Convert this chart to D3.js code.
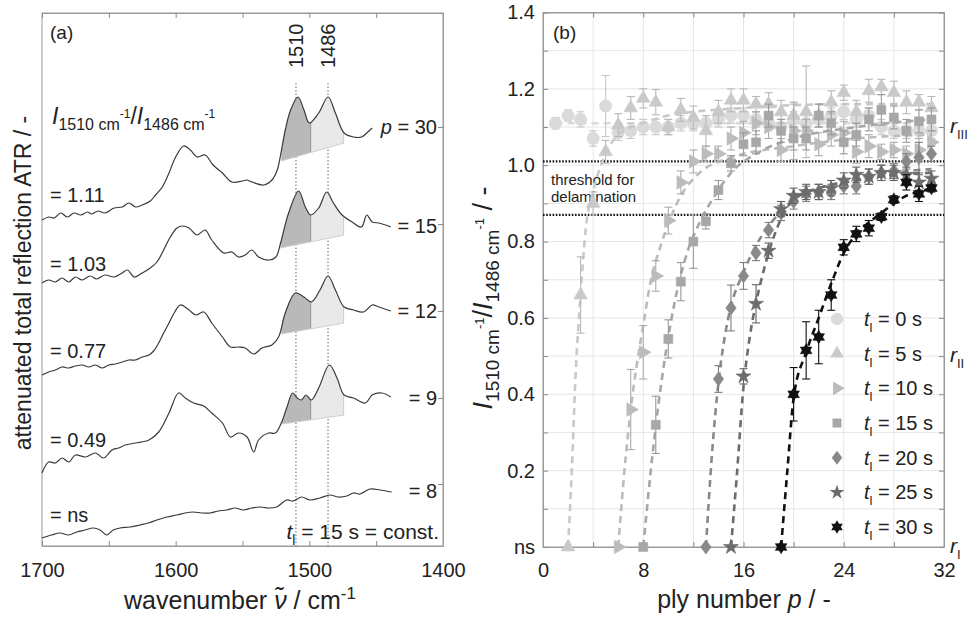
<!DOCTYPE html>
<html>
<head>
<meta charset="utf-8">
<script src="https://cdn.jsdelivr.net/npm/d3@7"></script>
<style>
  body { margin:0; background:#fff; }
  text { font-family:"Liberation Sans", Arial, sans-serif; fill:#222; }
</style>
</head>
<body>
<svg id="chart" width="971" height="617"></svg>
<script>

// ---------------------------------------------------------------
// panel (a) : ATR spectra, [wavenumber, signal a.u.]
// ---------------------------------------------------------------
var spectrumP30 = [[1700,32.6],[1695,32.9],[1691,32.8],[1686,33.3],[1681,32.9],[1676,33.3],[1671,33.1],[1666,33.4],[1663,33.2],[1658,33.5],[1653,33.3],[1646,33.8],[1640,33.9],[1635,34.3],[1630,33.9],[1625,34.1],[1619,34.5],[1615,35.1],[1610,35.9],[1605,37.3],[1600,38.9],[1594,40.0],[1589,39.6],[1584,38.9],[1578,39.1],[1572,38.1],[1565,37.3],[1558,36.4],[1550,36.5],[1547,36.6],[1543,36.4],[1534,36.1],[1528,36.6],[1524,37.6],[1521.5,39.1],[1518,41.6],[1514,43.6],[1508.5,44.9],[1504,43.6],[1500,42.3],[1493,43.3],[1486,44.9],[1480.5,43.3],[1474,41.3],[1467,40.9],[1461,40.9],[1457,41.3],[1453,41.8]];
var spectrumP15 = [[1700,26.3],[1695,26.6],[1690,26.4],[1685,26.8],[1680,26.4],[1675,26.9],[1670,26.6],[1664,27.0],[1659,26.7],[1653,27.1],[1646,26.9],[1640,27.3],[1636,27.6],[1631,26.9],[1625,27.3],[1619,27.8],[1614,28.4],[1609,29.6],[1604,30.9],[1599,31.8],[1595,32.0],[1590,31.8],[1584,31.1],[1578,31.6],[1573,30.6],[1564,29.3],[1558,29.4],[1553,28.9],[1548,29.1],[1543,29.6],[1538,28.9],[1530,28.6],[1525,28.9],[1521.5,30.3],[1515.5,33.3],[1508,35.5],[1503,33.9],[1499,33.1],[1493,33.8],[1487,35.4],[1482,34.3],[1475.5,33.1],[1468,32.4],[1461,31.9],[1457,33.1],[1453,32.4],[1448,32.3],[1443,32.1],[1439,31.9]];
var spectrumP12 = [[1700,17.1],[1695,17.4],[1690,17.6],[1685,17.9],[1680,17.8],[1675,18.0],[1670,18.1],[1665,17.9],[1660,18.1],[1655,17.8],[1650,18.1],[1645,18.2],[1640,18.4],[1635,18.6],[1630,18.6],[1625,18.9],[1620,19.1],[1616.5,19.5],[1612.7,20.3],[1609,21.3],[1605,22.3],[1600.7,23.4],[1596.5,24.1],[1590,23.6],[1585,23.1],[1579,23.4],[1573,22.3],[1565,20.9],[1559,19.9],[1553,19.9],[1548,19.8],[1541.6,19.2],[1535.4,19.8],[1528,20.1],[1523,20.9],[1518,23.3],[1510.5,25.3],[1504,24.9],[1498.5,24.4],[1492,25.6],[1486,27.0],[1480.5,25.6],[1474,23.9],[1467,23.6],[1459.4,23.4],[1453,24.1],[1448,23.9],[1439,23.5]];
var spectrumP9 = [[1700,7.3],[1695,8.4],[1690,8.3],[1685,8.8],[1680,8.4],[1675,9.1],[1667.6,8.9],[1660,9.3],[1654,8.8],[1647.6,9.6],[1642.6,9.8],[1637.7,10.1],[1630,10.3],[1620,10.6],[1612.7,11.4],[1605,13.3],[1597.8,15.3],[1592.8,14.8],[1586.5,14.3],[1579,14.0],[1573,13.3],[1565,12.3],[1559,10.9],[1553,11.3],[1546.6,10.9],[1541.6,9.4],[1538,10.6],[1530.4,11.3],[1525.4,11.3],[1521,12.3],[1516.7,13.9],[1512.5,15.3],[1509,14.8],[1506,14.6],[1502.5,15.1],[1498.5,14.6],[1493,15.8],[1485,18.1],[1479.3,16.8],[1474,15.1],[1467,14.8],[1458,14.3],[1453,15.1],[1445.6,15.3],[1439,14.9]];
var spectrumP8 = [[1700,0.8],[1693,1.1],[1686.5,1.3],[1680,1.1],[1674,1.4],[1668,1.6],[1661.6,1.8],[1656.6,1.6],[1651.6,1.1],[1646.7,1.6],[1641.6,1.8],[1634,1.9],[1626.7,2.1],[1620.5,2.3],[1614,2.6],[1606.7,2.9],[1599,3.1],[1593,3.3],[1586.8,3.4],[1580.5,3.3],[1574.3,3.3],[1568,3.5],[1561.8,3.6],[1555.6,3.8],[1549.4,3.6],[1543,3.8],[1537,3.9],[1530.7,3.8],[1524.4,3.9],[1517,4.6],[1512,4.5],[1505.7,4.9],[1499.5,4.6],[1492,4.8],[1484.6,5.1],[1478.4,4.9],[1472,5.0],[1467,5.3],[1462,5.2],[1454.6,5.7],[1447,5.6],[1438.4,5.4]];

// integration baselines under the 1510 / 1486 bands
var baseP30 = [[1521,38.5],[1474,40.3]];
var baseP15 = [[1521.5,29.8],[1474,31.1]];
var baseP12 = [[1521,21.2],[1474,22.3]];
var baseP9  = [[1520.5,12.2],[1474,13.1]];
var bandSplit = 1499;

var bandPositions = [1510, 1486];
var wavenumberTicks = [1700,1650,1600,1550,1500,1450,1400];
var spectrumEnds = [41.9, 32.2, 23.5, 14.8, 6.2];
var plyLabels = ["= 30","= 15","= 12","= 9","= 8"];
var ratioLabels = ["= 1.11","= 1.03","= 0.77","= 0.49","= ns"];

// ---------------------------------------------------------------
// panel (b) : intensity ratio vs ply number (ns plotted as 0)
// ---------------------------------------------------------------
var t0Ply = [1,2,3,4,5,6,7,8,9,10,11,12,13,14,15,16,17,18,19,20,21,22,23,24,25,26,27,28,29,30,31];
var t0Ratio = [1.11,1.13,1.12,1.07,1.155,1.085,1.09,1.10,1.10,1.10,1.11,1.11,1.11,1.12,1.13,1.13,1.12,1.11,1.10,1.12,1.11,1.12,1.13,1.14,1.12,1.13,1.10,1.09,1.09,1.09,1.09];
var t0Err = [0.015,0.015,0.02,0.02,0.08,0.02,0.02,0.02,0.02,0.02,0.02,0.02,0.02,0.02,0.02,0.02,0.02,0.02,0.02,0.02,0.02,0.02,0.02,0.02,0.02,0.02,0.02,0.02,0.02,0.02,0.02];
var t0Fit = [[1,1.11],[31,1.11]];

var t5Ply = [2,3,4,5,6,7,8,9,10,11,12,13,14,15,16,17,18,19,20,21,22,23,24,25,26,27,28,29,30,31];
var t5Ratio = [0,0.66,0.90,1.035,1.105,1.15,1.175,1.165,1.10,1.145,1.125,1.09,1.14,1.17,1.17,1.16,1.16,1.14,1.13,1.14,1.13,1.165,1.19,1.14,1.195,1.205,1.19,1.165,1.165,1.15];
var t5Err = [0,0.1,0.03,0.03,0.03,0.03,0.025,0.033,0.02,0.03,0.03,0.04,0.03,0.03,0.03,0.02,0.03,0.03,0.03,0.12,0.03,0.03,0.02,0.03,0.03,0.02,0.03,0.03,0.02,0.03];
var t5Fit = [[2,0],[2.3,0.2],[2.6,0.45],[3,0.66],[3.4,0.83],[4,0.93],[5,1.03],[6,1.08],[8,1.11],[10,1.13],[16,1.15],[24,1.16],[31,1.16]];

var t10Ply = [6,7,8,9,10,11,12,13,14,15,16,17,18,19,20,21,22,23,24,25,26,27,28,29,30,31];
var t10Ratio = [0,0.36,0.51,0.71,0.855,0.955,1.01,1.03,1.03,1.07,1.085,1.11,1.10,1.04,1.09,1.09,1.055,1.08,1.085,1.035,1.05,1.035,1.04,1.03,1.04,1.06];
var t10Err = [0,0.105,0.07,0.04,0.035,0.03,0.03,0.02,0.02,0.03,0.03,0.03,0.03,0.03,0.075,0.03,0.03,0.03,0.03,0.03,0.03,0.02,0.02,0.02,0.03,0.03];
var t10Fit = [[6,0],[6.5,0.2],[7,0.36],[7.5,0.48],[8,0.58],[8.5,0.68],[9.5,0.8],[11,0.92],[12.5,0.98],[15,1.02],[20,1.05],[25,1.07],[31,1.08]];

var t15Ply = [8,9,10,11,12,13,14,15,16,17,18,19,20,21,22,23,24,25,26,27,28,29,30,31];
var t15Ratio = [0,0.32,0.545,0.695,0.80,0.853,0.935,1.005,1.055,1.06,1.13,1.09,1.07,1.07,1.13,1.11,1.06,1.08,1.12,1.145,1.125,1.09,1.115,1.12];
var t15Err = [0,0.075,0.05,0.05,0.07,0.02,0.025,0.02,0.03,0.03,0.03,0.03,0.03,0.03,0.03,0.03,0.03,0.03,0.03,0.04,0.03,0.03,0.03,0.03];
var t15Fit = [[8,0],[8.8,0.26],[9.2,0.37],[9.85,0.52],[10.5,0.64],[11.4,0.76],[12.5,0.85],[13.8,0.925],[15,0.98],[17,1.03],[20,1.07],[25,1.10],[31,1.12]];

var t20Ply = [13,14,15,16,17,18,19,20,21,22,23,24,25,26,27,28,29,30,31];
var t20Ratio = [0,0.44,0.626,0.71,0.77,0.83,0.875,0.905,0.925,0.93,0.93,0.945,0.945,0.97,0.98,0.985,1.01,1.02,1.03];
var t20Err = [0,0.035,0.06,0.035,0.02,0.02,0.02,0.02,0.02,0.02,0.02,0.02,0.02,0.02,0.02,0.02,0.02,0.04,0.02];
var t20Fit = [[13,0],[13.5,0.25],[14,0.43],[14.5,0.55],[15,0.63],[16,0.72],[17,0.79],[18,0.84],[19,0.88],[20,0.91],[22,0.94],[25,0.96],[28,0.98],[31,0.99]];

var t25Ply = [15,16,17,18,19,20,21,22,23,24,25,26,27,28,29,30,31];
var t25Ratio = [0,0.447,0.637,0.776,0.885,0.92,0.93,0.93,0.94,0.96,0.975,0.97,0.98,0.98,0.975,0.955,0.965];
var t25Err = [0,0.02,0.05,0.02,0.02,0.02,0.02,0.02,0.02,0.02,0.02,0.02,0.02,0.02,0.02,0.02,0.02];
var t25Fit = [[15,0],[15.45,0.18],[16,0.42],[16.5,0.55],[17,0.64],[17.5,0.71],[18,0.77],[19,0.86],[20,0.91],[22,0.94],[25,0.96],[28,0.975],[31,0.98]];

var t30Ply = [19,20,21,22,23,24,25,26,27,28,29,30,31];
var t30Ratio = [0,0.40,0.515,0.55,0.66,0.785,0.82,0.835,0.865,0.91,0.955,0.925,0.94];
var t30Err = [0,0.07,0.075,0.07,0.04,0.02,0.02,0.02,0.01,0.01,0.02,0.02,0.01];
var t30Fit = [[19,0],[19.5,0.2],[20,0.39],[21,0.51],[22,0.6],[23,0.69],[24,0.77],[25,0.82],[26,0.85],[27,0.875],[28,0.9],[29,0.92],[30,0.93],[31,0.94]];

var layerTimes = ["0","5","10","15","20","25","30"];
var thresholds = [1.01, 0.87];
var plyTicks = [0,4,8,12,16,20,24,28,32];
var plyTickLabels = ["0","","8","","16","","24","","32"];
var ratioTicks = [0,0.1,0.2,0.3,0.4,0.5,0.6,0.7,0.8,0.9,1.0,1.1,1.2,1.3,1.4];
var ratioTickLabels = ["ns","","0.2","","0.4","","0.6","","0.8","","1.0","","1.2","","1.4"];
var regimeLabels = ["III","II","I"];
var regimeLevels = [1.1, 0.5, 0];

// ---------------------------------------------------------------
var svg = d3.select("#chart");
var FONT_TICK = 20;

// six pointed star for t = 30 s
var symbolHexagram = {
	draw: function(context, size){
		var r = Math.sqrt(size/1.3);
		for ( var k=0; k<2; k++ ){
			for ( var i=0; i<3; i++ ){
				var a = -Math.PI/2 + k*Math.PI + i*2*Math.PI/3;
				if ( i==0 ) context.moveTo(r*Math.cos(a), r*Math.sin(a));
				else context.lineTo(r*Math.cos(a), r*Math.sin(a));
			}
			context.closePath();
		}
	}
};
// a slightly fatter diamond than d3.symbolDiamond
var symbolFatDiamond = {
	draw: function(context, size){
		var h = Math.sqrt(size)*0.85, w = h*0.75;
		context.moveTo(0,-h);
		context.lineTo(w,0);
		context.lineTo(0,h);
		context.lineTo(-w,0);
		context.closePath();
	}
};

function styleAxis(g){
	g.selectAll(".domain").attr("stroke","#9a9a9a");
	g.selectAll(".tick line").attr("stroke","#8a8a8a");
	g.selectAll(".tick text").style("font-size",FONT_TICK+"px").attr("fill","#222");
}

// ===============================================================
// panel (a)
// ===============================================================
var aLeft = 42, aRight = 443, aTop = 13, aBottom = 546;
var xA = d3.scaleLinear().domain([1700,1400]).range([aLeft,aRight]);
var yA = d3.scaleLinear().domain([0,53.3]).range([aBottom,aTop]);

var pa = svg.append("g");

pa.append("rect").attr("x",aLeft).attr("y",aTop).attr("width",aRight-aLeft).attr("height",aBottom-aTop)
	.attr("fill","none").attr("stroke","#9a9a9a");

var axBottomA = pa.append("g").attr("transform","translate(0,"+aBottom+")")
	.call(d3.axisBottom(xA).tickValues(wavenumberTicks).tickSize(-5).tickSizeOuter(0).tickPadding(17)
		.tickFormat(function(d){ return d%100===0 ? d : ""; }));
styleAxis(axBottomA);
var axTopA = pa.append("g").attr("transform","translate(0,"+aTop+")")
	.call(d3.axisTop(xA).tickValues(wavenumberTicks).tickSize(-5).tickSizeOuter(0).tickFormat(""));
styleAxis(axTopA);
var axRightA = pa.append("g").attr("transform","translate("+aRight+",0)")
	.call(d3.axisRight(yA).tickValues(spectrumEnds).tickSize(-5).tickSizeOuter(0).tickFormat(""));
styleAxis(axRightA);

// band marker lines
bandPositions.forEach(function(w){
	pa.append("line").attr("x1",xA(w)).attr("x2",xA(w)).attr("y1",83).attr("y2",aBottom)
		.attr("stroke","#666").attr("stroke-width",1).attr("stroke-dasharray","1.5,2");
	pa.append("text").attr("transform","translate("+(xA(w)+7)+",68) rotate(-90)")
		.style("font-size","20px").attr("fill","#8c8c8c").text(String(w));
});

var spectra = [
	{data:spectrumP30, base:baseP30},
	{data:spectrumP15, base:baseP15},
	{data:spectrumP12, base:baseP12},
	{data:spectrumP9,  base:baseP9},
	{data:spectrumP8,  base:null}
];

var curveA = d3.curveCatmullRom.alpha(0.5);
var lineA = d3.line().x(function(d){ return xA(d[0]); }).y(function(d){ return yA(d[1]); }).curve(curveA);

var defs = svg.append("defs");

spectra.forEach(function(s, k){

	if ( s.base ){
		var b = s.base;
		var baseAt = function(w){ return b[0][1] + (b[1][1]-b[0][1])*(w-b[0][0])/(b[1][0]-b[0][0]); };
		var pts = s.data.filter(function(d){ return d[0] <= 1530 && d[0] >= 1465; });
		var area = d3.area()
			.x(function(d){ return xA(d[0]); })
			.y0(function(d){ return yA(baseAt(d[0])); })
			.y1(function(d){ return yA(d[1]); })
			.curve(curveA);

		defs.append("clipPath").attr("id","band"+k).append("path").attr("d",area(pts));

		var g = pa.append("g").attr("clip-path","url(#band"+k+")");
		g.append("rect").attr("x",xA(b[0][0])).attr("width",xA(bandSplit)-xA(b[0][0]))
			.attr("y",aTop).attr("height",aBottom-aTop).attr("fill","#b9b9b9");
		g.append("rect").attr("x",xA(bandSplit)).attr("width",xA(b[1][0])-xA(bandSplit))
			.attr("y",aTop).attr("height",aBottom-aTop).attr("fill","#e9e9e9");
		g.append("line").attr("x1",xA(bandSplit)).attr("x2",xA(bandSplit)).attr("y1",aTop).attr("y2",aBottom)
			.attr("stroke","#8f8f8f").attr("stroke-width",1);
		g.append("line").attr("x1",xA(b[1][0])-0.5).attr("x2",xA(b[1][0])-0.5).attr("y1",aTop).attr("y2",aBottom)
			.attr("stroke","#cfcfcf").attr("stroke-width",1);
		pa.append("line").attr("x1",xA(b[0][0])).attr("x2",xA(b[1][0]))
			.attr("y1",yA(b[0][1])).attr("y2",yA(b[1][1]))
			.attr("stroke","#d0d0d0").attr("stroke-width",1);
	}

	pa.append("path").attr("d",lineA(s.data)).attr("fill","none")
		.attr("stroke","#3a3a3a").attr("stroke-width",1.2);
});

// labels in panel (a)
pa.append("text").attr("x",50).attr("y",39).style("font-size","19px").text("(a)");

var ratioTitle = pa.append("text").attr("x",52).attr("y",124).style("font-size","23px");
ratioTitle.append("tspan").style("font-style","italic").text("I");
ratioTitle.append("tspan").attr("dy",6).style("font-size","16px").text("1510 cm");
ratioTitle.append("tspan").attr("dy",-12).style("font-size","12px").text("-1");
ratioTitle.append("tspan").attr("dy",6).text("/");
ratioTitle.append("tspan").style("font-style","italic").text("I");
ratioTitle.append("tspan").attr("dy",6).style("font-size","16px").text("1486 cm");
ratioTitle.append("tspan").attr("dy",-12).style("font-size","12px").text("-1");

var ratioLabelY = [202, 271, 358, 447, 522];
ratioLabels.forEach(function(t,i){
	pa.append("text").attr("x",50).attr("y",ratioLabelY[i]).style("font-size","20px").text(t);
});

var plyLabelY = [134, 233, 318, 405, 498];
plyLabels.forEach(function(t,i){
	var tx = pa.append("text").attr("x",437).attr("y",plyLabelY[i]).attr("text-anchor","end").style("font-size","20px");
	if ( i==0 ){
		tx.append("tspan").style("font-style","italic").text("p");
		tx.append("tspan").text(" "+t);
	} else {
		tx.text(t);
	}
});

var constText = pa.append("text").attr("x",439).attr("y",539).attr("text-anchor","end").style("font-size","21px");
constText.append("tspan").style("font-style","italic").text("t");
constText.append("tspan").attr("dy",6).style("font-size","14px").text("l");
constText.append("tspan").attr("dy",-6).text(" = 15 s = const.");

var xlabA = svg.append("text").attr("x",240).attr("y",609).attr("text-anchor","middle").style("font-size","25px");
xlabA.append("tspan").text("wavenumber ");
xlabA.append("tspan").style("font-style","italic").text("\u03BD\u0303");
xlabA.append("tspan").text(" / cm");
xlabA.append("tspan").attr("dy",-10).style("font-size","17px").text("-1");

svg.append("text").attr("transform","translate(31,283) rotate(-90)").attr("text-anchor","middle")
	.style("font-size","23px").text("attenuated total reflection ATR / -");

// ===============================================================
// panel (b)
// ===============================================================
var bLeft = 543, bRight = 944, bTop = 12.5, bBottom = 547;
var xB = d3.scaleLinear().domain([0,32]).range([bLeft,bRight]);
var yB = d3.scaleLinear().domain([0,1.4]).range([bBottom,bTop]);

var pb = svg.append("g");

// grid
pb.append("g").selectAll("line").data(plyTicks.slice(1,-1)).join("line")
	.attr("x1",function(d){ return xB(d); }).attr("x2",function(d){ return xB(d); })
	.attr("y1",bTop).attr("y2",bBottom).attr("stroke","#e6e6e6");
pb.append("g").selectAll("line").data(ratioTicks.slice(1,-1)).join("line")
	.attr("y1",function(d){ return yB(d); }).attr("y2",function(d){ return yB(d); })
	.attr("x1",bLeft).attr("x2",bRight).attr("stroke","#e6e6e6");

pb.append("rect").attr("x",bLeft).attr("y",bTop).attr("width",bRight-bLeft).attr("height",bBottom-bTop)
	.attr("fill","none").attr("stroke","#9a9a9a");

var axBottomB = pb.append("g").attr("transform","translate(0,"+bBottom+")")
	.call(d3.axisBottom(xB).tickValues(plyTicks).tickSize(-5).tickSizeOuter(0).tickPadding(16)
		.tickFormat(function(d,i){ return plyTickLabels[i]; }));
styleAxis(axBottomB);
var axTopB = pb.append("g").attr("transform","translate(0,"+bTop+")")
	.call(d3.axisTop(xB).tickValues(plyTicks).tickSize(-5).tickSizeOuter(0).tickFormat(""));
styleAxis(axTopB);
var axLeftB = pb.append("g").attr("transform","translate("+bLeft+",0)")
	.call(d3.axisLeft(yB).tickValues(ratioTicks).tickSize(-5).tickSizeOuter(0).tickPadding(8)
		.tickFormat(function(d,i){ return ratioTickLabels[i]; }));
styleAxis(axLeftB);
var axRightB = pb.append("g").attr("transform","translate("+bRight+",0)")
	.call(d3.axisRight(yB).tickValues(ratioTicks).tickSize(-5).tickSizeOuter(0).tickFormat(""));
styleAxis(axRightB);

// threshold band
thresholds.forEach(function(v){
	pb.append("line").attr("x1",bLeft).attr("x2",bRight).attr("y1",yB(v)).attr("y2",yB(v))
		.attr("stroke","#111").attr("stroke-width",2.2).attr("stroke-dasharray","1.6,1.6");
});
pb.append("text").attr("x",551).attr("y",185).style("font-size","15px").text("threshold for");
pb.append("text").attr("x",551).attr("y",202).style("font-size","15px").text("delamination");

var series = [
	{p:t0Ply,  v:t0Ratio,  e:t0Err,  fit:t0Fit,  color:"#dadada", sym:d3.symbolCircle,   size:120, rot:0},
	{p:t5Ply,  v:t5Ratio,  e:t5Err,  fit:t5Fit,  color:"#c9c9c9", sym:d3.symbolTriangle, size:80,  rot:0},
	{p:t10Ply, v:t10Ratio, e:t10Err, fit:t10Fit, color:"#bcbcbc", sym:d3.symbolTriangle, size:80,  rot:90},
	{p:t15Ply, v:t15Ratio, e:t15Err, fit:t15Fit, color:"#a7a7a7", sym:d3.symbolSquare,   size:80,  rot:0},
	{p:t20Ply, v:t20Ratio, e:t20Err, fit:t20Fit, color:"#898989", sym:symbolFatDiamond,  size:68,  rot:0},
	{p:t25Ply, v:t25Ratio, e:t25Err, fit:t25Fit, color:"#6c6c6c", sym:d3.symbolStar,     size:70,  rot:0},
	{p:t30Ply, v:t30Ratio, e:t30Err, fit:t30Fit, color:"#111111", sym:symbolHexagram,   size:58,  rot:0}
];

var fitLine = d3.line().x(function(d){ return xB(d[0]); }).y(function(d){ return yB(d[1]); }).curve(d3.curveMonotoneX);

series.forEach(function(s){

	// fitted trend
	pb.append("path").attr("d",fitLine(s.fit)).attr("fill","none")
		.attr("stroke",s.color).attr("stroke-width",2.6).attr("stroke-dasharray","7,5");

	var pts = s.p.map(function(p,i){ return {p:p, v:s.v[i], e:s.e[i]}; });

	// error bars
	var eb = pb.append("g").attr("stroke",d3.color(s.color).darker(0.25)).attr("stroke-width",1.1);
	pts.filter(function(d){ return d.e > 0; }).forEach(function(d){
		var x = xB(d.p);
		eb.append("line").attr("x1",x).attr("x2",x).attr("y1",yB(d.v-d.e)).attr("y2",yB(d.v+d.e));
		eb.append("line").attr("x1",x-4).attr("x2",x+4).attr("y1",yB(d.v-d.e)).attr("y2",yB(d.v-d.e));
		eb.append("line").attr("x1",x-4).attr("x2",x+4).attr("y1",yB(d.v+d.e)).attr("y2",yB(d.v+d.e));
	});

	// markers
	pb.append("g").selectAll("path").data(pts).join("path")
		.attr("d",d3.symbol().type(s.sym).size(s.size))
		.attr("transform",function(d){ return "translate("+xB(d.p)+","+yB(d.v)+") rotate("+s.rot+")"; })
		.attr("fill",s.color).attr("stroke",s.color).attr("stroke-width",0.6);
});

// legend
var legendY = d3.scaleLinear().domain([0,6]).range([319,527]);
series.forEach(function(s,i){
	var y = legendY(i);
	pb.append("path").attr("d",d3.symbol().type(s.sym).size(s.size))
		.attr("transform","translate(837,"+y+") rotate("+s.rot+")").attr("fill",s.color);
	var t = pb.append("text").attr("x",864).attr("y",y+7).style("font-size","20px");
	t.append("tspan").style("font-style","italic").text("t");
	t.append("tspan").attr("dy",6).style("font-size","13px").text("l");
	t.append("tspan").attr("dy",-6).text(" = "+layerTimes[i]+" s");
});

// regime labels on the right
regimeLabels.forEach(function(r,i){
	var t = svg.append("text").attr("x",950).attr("y",yB(regimeLevels[i])+6).style("font-size","21px");
	t.append("tspan").style("font-style","italic").text("r");
	t.append("tspan").attr("dy",6).style("font-size","13px").text(r);
});

pb.append("text").attr("x",553).attr("y",39).style("font-size","19px").text("(b)");

var xlabB = svg.append("text").attr("x",744).attr("y",608).attr("text-anchor","middle").style("font-size","25px");
xlabB.append("tspan").text("ply number ");
xlabB.append("tspan").style("font-style","italic").text("p");
xlabB.append("tspan").text(" / -");

var ylabB = svg.append("text").attr("transform","translate(492,298) rotate(-90)").attr("text-anchor","middle").style("font-size","27px");
ylabB.append("tspan").style("font-style","italic").text("I");
ylabB.append("tspan").attr("dy",7).style("font-size","19px").text("1510 cm");
ylabB.append("tspan").attr("dy",-15).style("font-size","13px").text("-1");
ylabB.append("tspan").attr("dy",8).text("/");
ylabB.append("tspan").style("font-style","italic").text("I");
ylabB.append("tspan").attr("dy",7).style("font-size","19px").text("1486 cm");
ylabB.append("tspan").attr("dy",-15).style("font-size","13px").text("-1");
ylabB.append("tspan").attr("dy",8).text(" / -");

</script>
</body>
</html>
